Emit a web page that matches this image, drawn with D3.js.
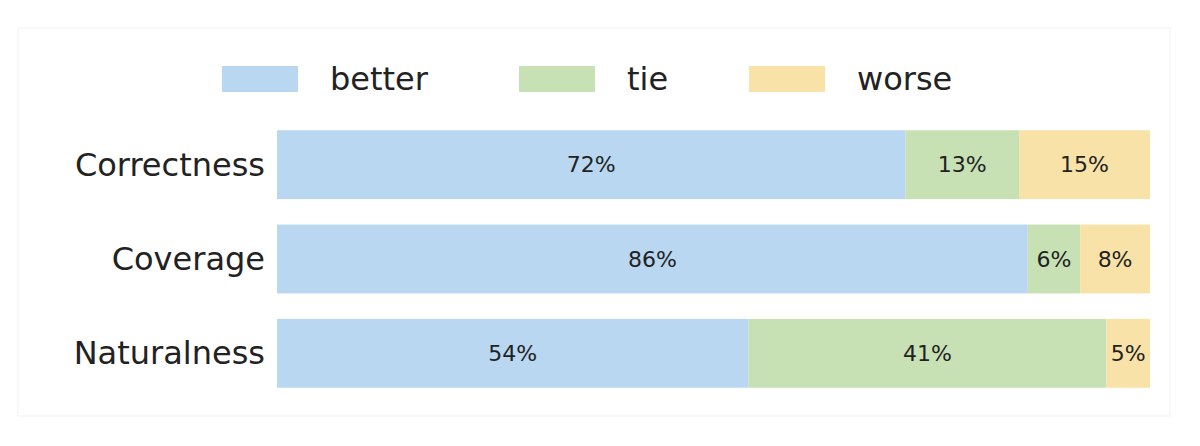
<!DOCTYPE html>
<html><head><meta charset="utf-8">
<script src="https://cdn.jsdelivr.net/npm/d3@7"></script>
<style>body{margin:0;background:#fff;font-family:"DejaVu Sans",sans-serif}</style>
</head><body><div id="holder"></div>
<script>
const categories = ["Correctness", "Coverage", "Naturalness"];
const seriesNames = ["better", "tie", "worse"];
const better = [72, 86, 54];
const tie = [13, 6, 41];
const worse = [15, 8, 5];
const colors = ["#b9d7f0", "#c7e1b5", "#f8e2a8"];

const width = 1200, height = 446;
const svg = d3.select("#holder").append("svg").attr("width", width).attr("height", height);

svg.append("rect").attr("x", 18).attr("y", 28).attr("width", 1152).attr("height", 388)
    .attr("fill", "#fff").attr("stroke", "#f2f2f2");

const x = d3.scaleLinear().domain([0, 100]).range([277, 1150]);
const y = d3.scaleBand().domain(categories).range([118, 400]).paddingInner(0.27).paddingOuter(0.13);

const rows = categories.map((c, i) => ({ cat: c, vals: [better[i], tie[i], worse[i]] }));
const stack = d3.stack().keys([0, 1, 2]).value((d, k) => d.vals[k])(rows);

stack.forEach((layer, k) => {
    const g = svg.append("g");
    g.selectAll("rect").data(layer).enter().append("rect")
        .attr("x", d => x(d[0]))
        .attr("y", d => y(d.data.cat))
        .attr("width", d => x(d[1]) - x(d[0]))
        .attr("height", y.bandwidth())
        .attr("fill", colors[k]);
    g.selectAll("text").data(layer).enter().append("text")
        .attr("x", d => (x(d[0]) + x(d[1])) / 2)
        .attr("y", d => y(d.data.cat) + y.bandwidth() / 2)
        .attr("text-anchor", "middle").attr("dominant-baseline", "central")
        .style("font-size", "22px").attr("fill", "#222")
        .text(d => d.data.vals[k] + "%");
});

svg.selectAll(".cat").data(categories).enter().append("text")
    .attr("x", 265).attr("y", d => y(d) + y.bandwidth() / 2)
    .attr("text-anchor", "end").attr("dominant-baseline", "central")
    .style("font-size", "32px").attr("fill", "#222").text(d => d);

const legendX = [222, 519, 749];
seriesNames.forEach((s, i) => {
    svg.append("rect").attr("x", legendX[i]).attr("y", 66).attr("width", 76).attr("height", 26).attr("fill", colors[i]);
    svg.append("text").attr("x", legendX[i] + 108).attr("y", 79).attr("dominant-baseline", "central")
        .style("font-size", "32px").attr("fill", "#222").text(s);
});
</script></body></html>
